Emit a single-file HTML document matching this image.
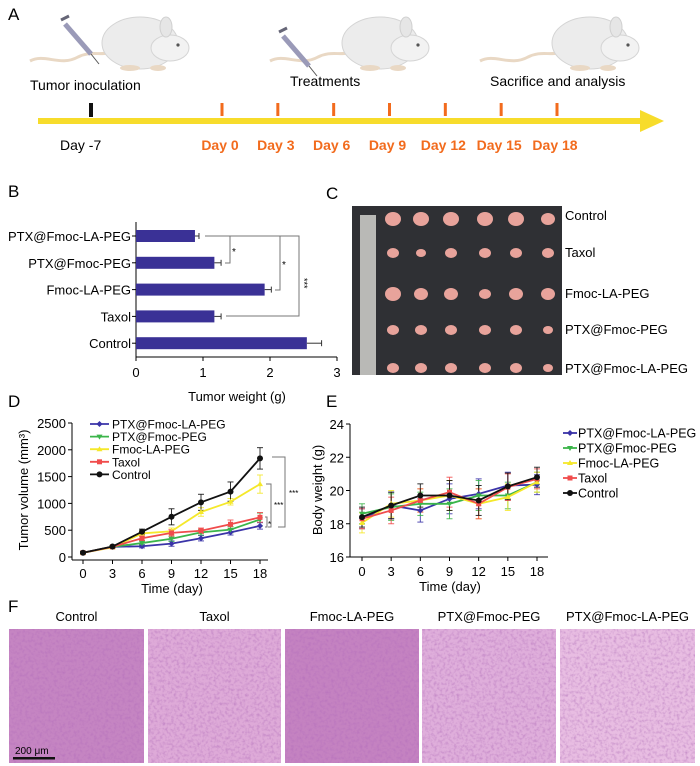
<!DOCTYPE html>
<html><head><meta charset="utf-8">
<style>
html,body{margin:0;padding:0;background:#fff;}
svg{display:block;font-family:"Liberation Sans",Arial,sans-serif;}
</style></head>
<body>
<svg id="fig" width="700" height="766" viewBox="0 0 700 766" xmlns="http://www.w3.org/2000/svg">
<defs>
  <filter id="tex" x="0" y="0" width="100%" height="100%">
    <feTurbulence type="fractalNoise" baseFrequency="0.35" numOctaves="2" seed="3" result="n"/>
    <feColorMatrix in="n" type="matrix" values="0 0 0 0 0.45  0 0 0 0 0.15  0 0 0 0 0.5  0 0 0 1.3 -0.55" result="c"/>
    <feComposite in="c" in2="SourceGraphic" operator="atop"/>
  </filter>
  <g id="mouse">
    <path d="M-60,26 C-45,18 -30,32 -12,22 C0,16 8,20 18,18" fill="none" stroke="#e9d8c4" stroke-width="3"/>
    <ellipse cx="50" cy="8" rx="38" ry="26" fill="#ececec" stroke="#d4d4d4"/>
    <ellipse cx="80" cy="13" rx="19" ry="13" fill="#f2f2f2" stroke="#d4d4d4"/>
    <ellipse cx="76" cy="-8" rx="6" ry="10" fill="#e6e6e6" stroke="#d0d0d0"/>
    <circle cx="88" cy="10" r="1.6" fill="#555"/>
    <ellipse cx="40" cy="33" rx="10" ry="3" fill="#e9d8c4"/>
    <ellipse cx="68" cy="33" rx="8" ry="3" fill="#e9d8c4"/>
  </g>
  <g id="syringe">
    <line x1="0" y1="0" x2="26" y2="30" stroke="#9a9ab8" stroke-width="5"/>
    <line x1="26" y1="30" x2="34" y2="40" stroke="#555" stroke-width="1"/>
    <line x1="-4" y1="-4" x2="4" y2="-8" stroke="#667" stroke-width="3"/>
  </g>
</defs>

<!-- Panel A -->
<g>
  <text x="8" y="20" font-size="17">A</text>
  <g transform="translate(90,35)"><use href="#mouse"/></g>
  <g transform="translate(65,24)"><use href="#syringe"/></g>
  <g transform="translate(330,35)"><use href="#mouse"/></g>
  <g transform="translate(283,36)"><use href="#syringe"/></g>
  <g transform="translate(540,35)"><use href="#mouse"/></g>
  <text x="30" y="90" font-size="14">Tumor inoculation</text>
  <text x="290" y="86" font-size="14">Treatments</text>
  <text x="490" y="86" font-size="14">Sacrifice and analysis</text>
  <rect x="38" y="118" width="608" height="6" fill="#f7dc2b"/>
  <polygon points="640,110 664,121 640,132" fill="#f7dc2b"/>
  <rect x="89" y="103" width="4" height="14" fill="#111"/>
  <g id="orangeTicks"></g>
  <text x="60" y="150" font-size="14">Day -7</text>
</g>

<!-- Panel B -->
<g id="panelB">
  <text x="8" y="197" font-size="17">B</text>
</g>

<!-- Panel C -->
<g>
  <text x="326" y="199" font-size="17">C</text>
  <rect x="352" y="206" width="210" height="169" fill="#2f3034"/>
  <rect x="360" y="215" width="16" height="160" fill="#b9b9b6"/>
  <g id="tumors"></g>
  <text x="565" y="220" font-size="13">Control</text>
  <text x="565" y="257" font-size="13">Taxol</text>
  <text x="565" y="298" font-size="13">Fmoc-LA-PEG</text>
  <text x="565" y="334" font-size="13">PTX@Fmoc-PEG</text>
  <text x="565" y="373" font-size="13">PTX@Fmoc-LA-PEG</text>
</g>

<!-- Panel D -->
<g id="panelD">
  <text x="8" y="407" font-size="17">D</text>
</g>
<!-- Panel E -->
<g id="panelE">
  <text x="326" y="407" font-size="17">E</text>
</g>

<!-- Panel F -->
<g id="panelF">
  <text x="8" y="612" font-size="17">F</text>
</g>
</svg>

<script>
const NS="http://www.w3.org/2000/svg";
function mk(tag,attrs,parent,text){const e=document.createElementNS(NS,tag);for(const k in attrs)e.setAttribute(k,attrs[k]);if(text!==undefined)e.textContent=text;parent.appendChild(e);return e;}

// ---------- Panel A data ----------
const treatDays=["Day 0","Day 3","Day 6","Day 9","Day 12","Day 15","Day 18"];
const treatDayNums=[0,3,6,9,12,15,18];
(function(){
  const g=document.getElementById('orangeTicks');
  const xA=d=>222+d*(557-222)/18;
  treatDayNums.forEach((d,i)=>{
    const r=mk('rect',{x:xA(d)-1.5,y:103,width:3,height:13,fill:'#f26b1d'},g);
    
    
    const t=mk('text',{x:xA(d)-2,y:150,'font-size':14,'font-weight':'bold',fill:'#f26b1d','text-anchor':'middle'},g,treatDays[i]);
    
    
  });
})();

// ---------- Panel B data ----------
const bGroups=["PTX@Fmoc-LA-PEG","PTX@Fmoc-PEG","Fmoc-LA-PEG","Taxol","Control"];
const bValues=[0.88,1.17,1.92,1.17,2.55];
const bErrors=[0.06,0.1,0.1,0.1,0.22];
const bTicks=[0,1,2,3];
(function(){
  const g=document.getElementById('panelB');
  const xB=v=>136+v*67;
  const yB=i=>236+i*26.8;
  mk('line',{x1:136,y1:222,x2:136,y2:357,stroke:'#000','stroke-width':1},g);
  mk('line',{x1:136,y1:357,x2:337,y2:357,stroke:'#000','stroke-width':1},g);
  bTicks.forEach(t=>{
    mk('line',{x1:xB(t),y1:357,x2:xB(t),y2:361,stroke:'#000'},g);
    const tl=mk('text',{x:xB(t),y:377,'font-size':13,'text-anchor':'middle'},g,t);
    
    
  });
  bGroups.forEach((n,i)=>{
    const y=yB(i);
    mk('line',{x1:132,y1:y,x2:136,y2:y,stroke:'#000'},g);
    const lab=mk('text',{x:131,y:y+5,'font-size':13,'text-anchor':'end'},g,n);
    
    
    const r=mk('rect',{x:136,y:y-6,width:xB(bValues[i])-136,height:12,fill:'#3a3196'},g);
    
    
    const xe=xB(bValues[i]+bErrors[i]);
    mk('line',{x1:xB(bValues[i]),y1:y,x2:xe,y2:y,stroke:'#333'},g);
    mk('line',{x1:xe,y1:y-3,x2:xe,y2:y+3,stroke:'#333'},g);
  });
  const br='#777';
  mk('path',{d:'M205,236 H230 V263 H225',fill:'none',stroke:br},g);
  mk('path',{d:'M230,236 H280 V290 H275',fill:'none',stroke:br},g);
  mk('path',{d:'M280,236 H299 V316 H226',fill:'none',stroke:br},g);
  mk('text',{x:232,y:255,'font-size':10},g,'*');
  mk('text',{x:282,y:268,'font-size':10},g,'*');
  mk('text',{x:301,y:282,'font-size':9,transform:'rotate(90 303 280)'},g,'***');
  const xt=mk('text',{x:237,y:401,'font-size':13,'text-anchor':'middle'},g,'Tumor weight (g)');
  
  
})();

// ---------- Panel C tumors ----------
const tumorCols=[393,421,451,485,516,548];
const tumorRows=[219,253,294,330,368];
const tumorSizes=[[7,7,7,7,7,6],[5,4,5,5,5,5],[7,6,6,5,6,6],[5,5,5,5,5,4],[5,5,5,5,5,4]];
(function(){
  const g=document.getElementById('tumors');
  tumorRows.forEach((y,r)=>tumorCols.forEach((x,c)=>{
    const s=tumorSizes[r][c];
    const e=mk('ellipse',{cx:x,cy:y,rx:s+1,ry:s,fill:'#e8a39b'},g);
    
    
  }));
})();

// ---------- Panel D data ----------
const days=[0,3,6,9,12,15,18];
const dNames=["PTX@Fmoc-LA-PEG","PTX@Fmoc-PEG","Fmoc-LA-PEG","Taxol","Control"];
const dColors=["#3a33a8","#3bb54a","#f5e82a","#f04c4c","#111111"];
const volLaPtx=[80,190,200,250,350,460,580];
const volPegPtx=[80,190,260,340,460,510,700];
const volFmoc=[80,180,440,480,840,1030,1360];
const volTaxol=[80,190,350,450,490,610,740];
const volControl=[80,195,470,750,1020,1220,1840];
const volErrLaPtx=[20,20,30,50,50,50,60];
const volErrPegPtx=[20,20,40,50,50,60,120];
const volErrFmoc=[20,20,50,60,80,60,170];
const volErrTaxol=[20,20,40,60,50,80,90];
const volErrControl=[20,20,50,150,150,180,200];
const dTicksY=[0,500,1000,1500,2000,2500];

// ---------- Panel E data ----------
const bwLaPtx=[18.3,19.1,18.8,19.5,19.8,20.3,20.35];
const bwPegPtx=[18.6,19.0,19.2,19.2,19.7,19.7,20.5];
const bwFmoc=[18.05,19.2,19.4,19.7,19.2,19.6,20.5];
const bwTaxol=[18.3,18.8,19.4,19.9,19.2,20.2,20.7];
const bwControl=[18.4,19.1,19.7,19.7,19.4,20.25,20.8];
const bwErr=[0.6,0.8,0.7,0.9,0.9,0.8,0.6];
const eTicksY=[16,18,20,22,24];

function marker(g,type,x,y,color){
  let m;
  if(type===0) m=mk('polygon',{points:`${x},${y-3} ${x+3},${y} ${x},${y+3} ${x-3},${y}`,fill:color},g);
  else if(type===1) m=mk('polygon',{points:`${x-3},${y-2} ${x+3},${y-2} ${x},${y+3}`,fill:color},g);
  else if(type===2) m=mk('polygon',{points:`${x-3},${y+2} ${x+3},${y+2} ${x},${y-3}`,fill:color},g);
  else if(type===3) m=mk('rect',{x:x-2.5,y:y-2.5,width:5,height:5,fill:color},g);
  else m=mk('circle',{cx:x,cy:y,r:3,fill:color},g);
  return m;
}

function drawLines(g,series,errs,xf,yf,prefix){
  series.forEach((vals,s)=>{
    const col=dColors[s];
    vals.forEach((v,i)=>{
      const x=xf(days[i]),e=errs[s][i];
      mk('line',{x1:x,y1:yf(v-e),x2:x,y2:yf(v+e),stroke:col,'stroke-width':1,opacity:0.85},g);
      mk('line',{x1:x-3,y1:yf(v+e),x2:x+3,y2:yf(v+e),stroke:col,opacity:0.85},g);
      mk('line',{x1:x-3,y1:yf(v-e),x2:x+3,y2:yf(v-e),stroke:col,opacity:0.85},g);
    });
  });
  series.forEach((vals,s)=>{
    const col=dColors[s];
    const pts=vals.map((v,i)=>xf(days[i])+','+yf(v)).join(' ');
    const pl=mk('polyline',{points:pts,fill:'none',stroke:col,'stroke-width':1.8},g);
    
    
    vals.forEach((v,i)=>{
      const m=marker(g,s,xf(days[i]),yf(v),col);
      
      
    });
  });
}

(function(){
  const g=document.getElementById('panelD');
  const xD=d=>83+d*(177/18);
  const yD=v=>557-v*134/2500;
  mk('line',{x1:72,y1:yD(2500),x2:72,y2:560,stroke:'#000'},g);
  mk('line',{x1:72,y1:560,x2:268,y2:560,stroke:'#000'},g);
  dTicksY.forEach(t=>{
    mk('line',{x1:68,y1:yD(t),x2:72,y2:yD(t),stroke:'#000'},g);
    const l=mk('text',{x:66,y:yD(t)+5,'font-size':13,'text-anchor':'end'},g,t);
    
    
  });
  days.forEach(d=>{
    mk('line',{x1:xD(d),y1:560,x2:xD(d),y2:564,stroke:'#000'},g);
    const l=mk('text',{x:xD(d),y:578,'font-size':13,'text-anchor':'middle'},g,d);
    
    
  });
  const xt=mk('text',{x:172,y:593,'font-size':13,'text-anchor':'middle'},g,'Time (day)');
  
  
  const yt=mk('text',{x:0,y:0,'font-size':13,'text-anchor':'middle',transform:'translate(28,490) rotate(-90)'},g,'Tumor volume (mm³)');
  
  
  drawLines(g,[volLaPtx,volPegPtx,volFmoc,volTaxol,volControl],[volErrLaPtx,volErrPegPtx,volErrFmoc,volErrTaxol,volErrControl],xD,yD,'d');
  mk('path',{d:'M272,457 H285 V527 H278',fill:'none',stroke:'#777'},g);
  mk('path',{d:'M266,484 H271 V527 H268',fill:'none',stroke:'#777'},g);
  mk('path',{d:'M265,517 H267 V527 H265',fill:'none',stroke:'#777'},g);
  mk('text',{x:289,y:496,'font-size':8},g,'***');
  mk('text',{x:274,y:508,'font-size':8},g,'***');
  mk('text',{x:268,y:527,'font-size':8},g,'*');
  dNames.forEach((n,s)=>{
    const y=424+s*12.6;
    const le=mk('g',{},g);
    
    
    mk('line',{x1:90,y1:y,x2:109,y2:y,stroke:dColors[s],'stroke-width':1.8},le);
    marker(le,s,99.5,y,dColors[s]);
    mk('text',{x:112,y:y+4.5,'font-size':12},le,n);
  });
})();

(function(){
  const g=document.getElementById('panelE');
  const xE=d=>362+d*(175/18);
  const yE=v=>557-(v-16)*133/8;
  mk('line',{x1:350,y1:yE(24),x2:350,y2:557,stroke:'#000'},g);
  mk('line',{x1:350,y1:557,x2:548,y2:557,stroke:'#000'},g);
  eTicksY.forEach(t=>{
    mk('line',{x1:346,y1:yE(t),x2:350,y2:yE(t),stroke:'#000'},g);
    const l=mk('text',{x:344,y:yE(t)+5,'font-size':13,'text-anchor':'end'},g,t);
    
    
  });
  days.forEach(d=>{
    mk('line',{x1:xE(d),y1:557,x2:xE(d),y2:561,stroke:'#000'},g);
    const l=mk('text',{x:xE(d),y:576,'font-size':13,'text-anchor':'middle'},g,d);
    
    
  });
  const xt=mk('text',{x:450,y:591,'font-size':13,'text-anchor':'middle'},g,'Time (day)');
  
  
  const yt=mk('text',{x:0,y:0,'font-size':13,'text-anchor':'middle',transform:'translate(322,490) rotate(-90)'},g,'Body weight (g)');
  
  
  drawLines(g,[bwLaPtx,bwPegPtx,bwFmoc,bwTaxol,bwControl],[bwErr,bwErr,bwErr,bwErr,bwErr],xE,yE,'e');
  dNames.forEach((n,s)=>{
    const y=433+s*15;
    const le=mk('g',{},g);
    
    
    mk('line',{x1:563,y1:y,x2:577,y2:y,stroke:dColors[s],'stroke-width':1.8},le);
    marker(le,s,570,y,dColors[s]);
    mk('text',{x:578,y:y+4.5,'font-size':12.5},le,n);
  });
})();

// ---------- Panel F ----------
const hNames=["Control","Taxol","Fmoc-LA-PEG","PTX@Fmoc-PEG","PTX@Fmoc-LA-PEG"];
const hColors=["#c585c2","#deaad8","#c482c1","#dfaedb","#e8bde2"];
(function(){
  const g=document.getElementById('panelF');
  const xs=[9,148,285,422,560], w=[135,133,134,134,135];
  hNames.forEach((n,i)=>{
    const r=mk('rect',{x:xs[i],y:629,width:w[i],height:134,fill:hColors[i],filter:'url(#tex)'},g);
    
    
    const t=mk('text',{x:xs[i]+w[i]/2,y:621,'font-size':13,'text-anchor':'middle'},g,n);
    
    
  });
  mk('text',{x:15,y:754,'font-size':10},g,'200 μm');
  const sb=mk('rect',{x:13,y:757,width:42,height:2.5,fill:'#111'},g);
  
  
})();
</script>
</body></html>
